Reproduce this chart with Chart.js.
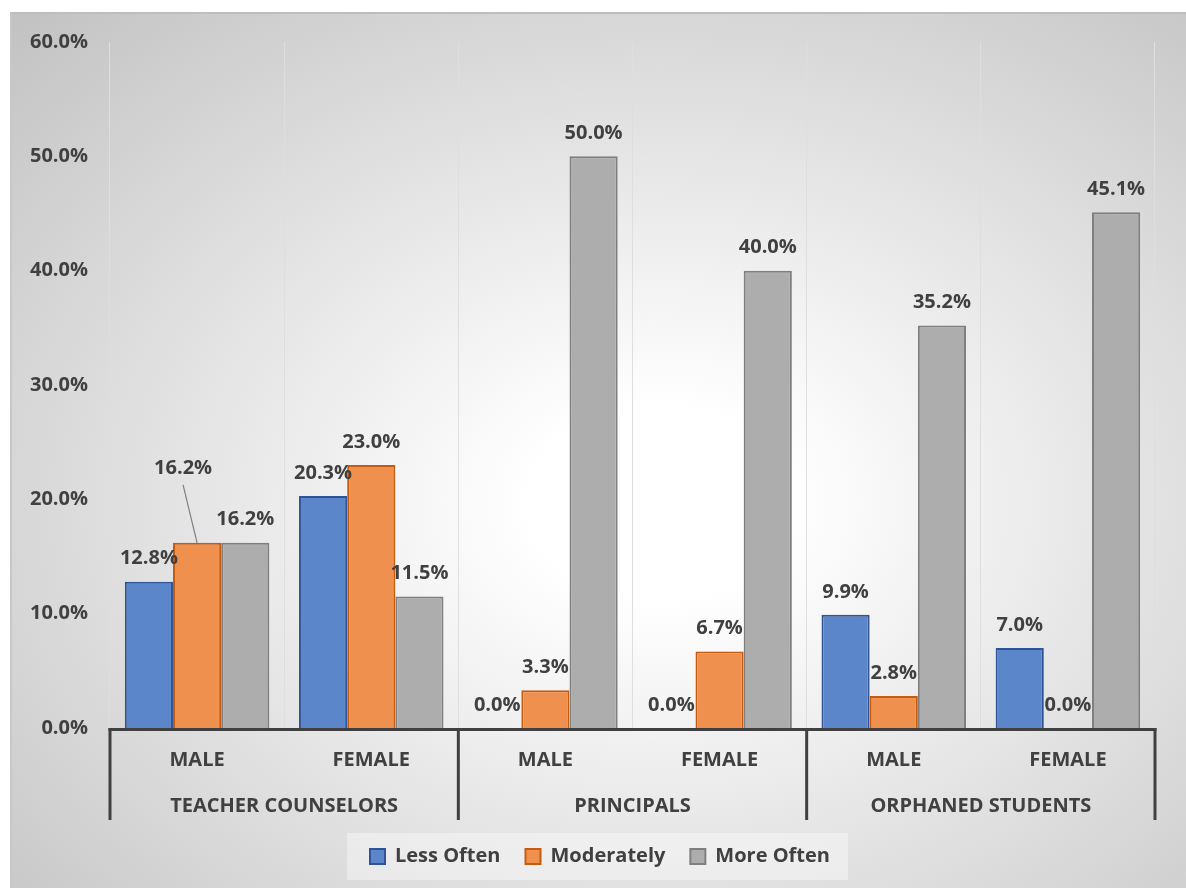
<!DOCTYPE html>
<html><head><meta charset="utf-8">
<script src="https://cdn.jsdelivr.net/npm/chart.js@4"></script>
<style>
html,body{margin:0;padding:0;background:#fff;overflow:hidden;width:1186px;height:888px;}
#frame{position:absolute;left:10px;top:12px;width:1176px;height:876px;border-top:2px solid #bdbdbd;border-left:2px solid #c8c8c8;box-sizing:border-box;
 background:radial-gradient(ellipse farthest-corner at 55% 56%, #ffffff 0%, #ffffff 14%, #c2c2c2 100%);}
#wrap{position:absolute;left:0;top:0;width:1186px;height:888px;}
</style></head>
<body>
<div id="frame"></div>
<div id="wrap"><canvas id="c" width="1186" height="888"></canvas></div>
<script>
const groups = ['TEACHER COUNSELORS', 'PRINCIPALS', 'ORPHANED STUDENTS'];
const genders = ['MALE', 'FEMALE', 'MALE', 'FEMALE', 'MALE', 'FEMALE'];
const seriesNames = ['Less Often', 'Moderately', 'More Often'];
const lessOften = [12.8, 20.3, 0.0, 0.0, 9.9, 7.0];
const moderately = [16.2, 23.0, 3.3, 6.7, 2.8, 0.0];
const moreOften = [16.2, 11.5, 50.0, 40.0, 35.2, 45.1];
const yMax = 60, yStep = 10;

const FONT = "'Open Sans', 'DejaVu Sans', sans-serif";
const TXT = '#404040';
const FS = 20;

// shift the legend box so it is centred like the reference
const legendShift = {
  id: 'legendShift',
  afterLayout(chart) {
    const l = chart.legend; if (!l) return;
    l.left = 45; l.right = chart.chartArea.right; l.width = l.right - l.left;
  }
};

const legendBg = {
  id: 'legendBg',
  beforeDraw(chart) {
    const l = chart.legend; if (!l) return;
    const ctx = chart.ctx;
    const pad = l.options.labels.padding;
    const cx = (l.left + l.right) / 2, cy = l.top + pad + FS / 2;
    ctx.save();
    ctx.fillStyle = 'rgba(255,255,255,0.38)';
    ctx.fillRect(cx - 253, cy - 23.5, 501, 47);
    ctx.restore();
  }
};

const valueLabels = {
  id: 'valueLabels',
  afterDatasetsDraw(chart) {
    const ctx = chart.ctx;
    ctx.save();
    ctx.font = 'bold ' + FS + 'px ' + FONT;
    ctx.fillStyle = TXT;
    ctx.textAlign = 'center';
    ctx.textBaseline = 'middle';
    chart.data.datasets.forEach((ds, di) => {
      const meta = chart.getDatasetMeta(di);
      meta.data.forEach((el, i) => {
        const txt = ds.data[i].toFixed(1) + '%';
        let lx = el.x, ly = el.y - 23;
        if (di === 1 && i === 0) {
          // label moved up-left, joined to its bar by a leader line
          lx = el.x - 14; ly = el.y - 74;
          ctx.save();
          ctx.strokeStyle = '#7f7f7f'; ctx.lineWidth = 1.2;
          ctx.beginPath(); ctx.moveTo(lx, ly + 16); ctx.lineTo(el.x, el.y); ctx.stroke();
          ctx.restore();
        }
        ctx.fillText(txt, lx, ly);
      });
    });
    ctx.restore();
  }
};

const groupAxis = {
  id: 'groupAxis',
  afterDraw(chart) {
    const ctx = chart.ctx, x = chart.scales.x, a = chart.chartArea;
    const n = genders.length, per = n / groups.length;
    const edge = i => i <= 0 ? a.left : (i >= n ? a.right : (x.getPixelForValue(i - 1) + x.getPixelForValue(i)) / 2);
    ctx.save();
    ctx.strokeStyle = '#404040'; ctx.lineWidth = 3;
    ctx.beginPath(); ctx.moveTo(a.left - 1.5, a.bottom + 1.5); ctx.lineTo(a.right + 1.5, a.bottom + 1.5); ctx.stroke();
    for (let g = 0; g <= groups.length; g++) {
      const px = edge(g * per);
      ctx.beginPath(); ctx.moveTo(px, a.bottom); ctx.lineTo(px, a.bottom + 92); ctx.stroke();
    }
    ctx.font = 'bold ' + FS + 'px ' + FONT; ctx.fillStyle = TXT; ctx.textAlign = 'center'; ctx.textBaseline = 'middle';
    groups.forEach((gname, g) => {
      const cx = (edge(g * per) + edge((g + 1) * per)) / 2;
      ctx.fillText(gname, cx, a.bottom + 78);
    });
    ctx.restore();
  }
};

new Chart(document.getElementById('c'), {
  type: 'bar',
  data: {
    labels: genders,
    datasets: [
      { label: seriesNames[0], data: lessOften, backgroundColor: '#5c86ca', borderColor: '#2f5597', borderWidth: 2 },
      { label: seriesNames[1], data: moderately, backgroundColor: '#ef904f', borderColor: '#c55a11', borderWidth: 2 },
      { label: seriesNames[2], data: moreOften, backgroundColor: '#adadad', borderColor: '#7f7f7f', borderWidth: 2 }
    ]
  },
  options: {
    responsive: false,
    animation: false,
    devicePixelRatio: 1,
    layout: { padding: { top: 42, right: 31, left: 0, bottom: 11.5 } },
    datasets: { bar: { categoryPercentage: 0.83, barPercentage: 1.0, borderSkipped: 'bottom' } },
    scales: {
      x: {
        grid: { display: true, offset: true, color: '#dedede', lineWidth: 1, drawTicks: false },
        border: { display: false },
        ticks: { color: TXT, font: { family: FONT, size: FS, weight: 'bold' }, padding: 20, maxRotation: 0, autoSkip: false },
        afterFit(s) { s.height = 93.5; }
      },
      y: {
        min: 0, max: yMax,
        grid: { display: false, drawTicks: false },
        border: { display: false },
        ticks: { stepSize: yStep, padding: 22, color: TXT, font: { family: FONT, size: FS, weight: 'bold' },
          callback: v => Number(v).toFixed(1) + '%' },
        afterFit(s) { s.width = 110; }
      }
    },
    plugins: {
      legend: {
        position: 'bottom',
        labels: { color: TXT, font: { family: FONT, size: FS, weight: 'bold' }, boxWidth: 15, boxHeight: 15, padding: 25 }
      },
      tooltip: { enabled: false }
    }
  },
  plugins: [legendShift, legendBg, valueLabels, groupAxis]
});
</script>
</body></html>
